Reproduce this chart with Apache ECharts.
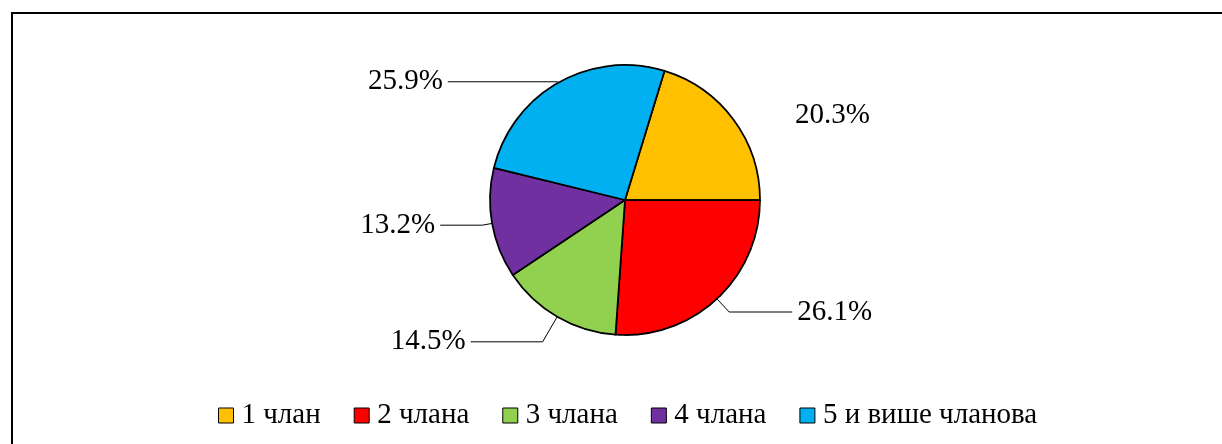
<!DOCTYPE html>
<html>
<head>
<meta charset="utf-8">
<script src="https://cdn.jsdelivr.net/npm/echarts@6/dist/echarts.min.js"></script>
<style>
  html, body { margin: 0; padding: 0; background: #fff; }
  #chart { width: 1222px; height: 444px; }
</style>
</head>
<body>
<div id="chart"></div>
<script>
const categories = ["1 члан", "2 члана", "3 члана", "4 члана", "5 и више чланова"];
const shares = [20.3, 26.1, 14.5, 13.2, 25.9];
const colors = ["#FFC000", "#FF0000", "#92D050", "#7030A0", "#00B0F0"];

// leader line lengths per slice (first radial part, second horizontal part)
const lineLen = [8, 18, 29, 10, 1];
const lineLen2 = [50, 63, 72, 42, 110];

const FONT = "'Liberation Serif', 'Times New Roman', serif";

const chart = echarts.init(document.getElementById("chart"));

const pieData = categories.map((name, i) => ({
    name,
    value: shares[i],
    itemStyle: {color: colors[i]},
    labelLine: {show: i !== 0, length: lineLen[i], length2: lineLen2[i]}
}));

chart.setOption({
    animation: false,
    backgroundColor: "#fff",
    graphic: [{
        type: "rect",
        shape: {x: 12, y: 13, width: 1240, height: 460},
        style: {fill: null, stroke: "#000", lineWidth: 2}
    }],
    legend: {
        bottom: 9,
        left: 213,
        itemWidth: 15,
        itemHeight: 15,
        itemGap: 33,
        icon: "rect",
        itemStyle: {borderColor: "#000", borderWidth: 1},
        textStyle: {fontFamily: FONT, fontSize: 29, color: "#000", padding: [0, 0, 0, 3]},
        data: categories
    },
    series: [{
        type: "pie",
        center: [625, 200],
        radius: 135,
        startAngle: 73,
        clockwise: true,
        data: pieData,
        itemStyle: {borderColor: "#000", borderWidth: 1.75},
        label: {
            show: true,
            position: "outside",
            formatter: p => p.value.toFixed(1) + "%",
            fontFamily: FONT,
            fontSize: 29,
            color: "#000"
        },
        labelLine: {lineStyle: {color: "#000", width: 1}},
        emphasis: {disabled: true}
    }]
});
</script>
</body>
</html>
